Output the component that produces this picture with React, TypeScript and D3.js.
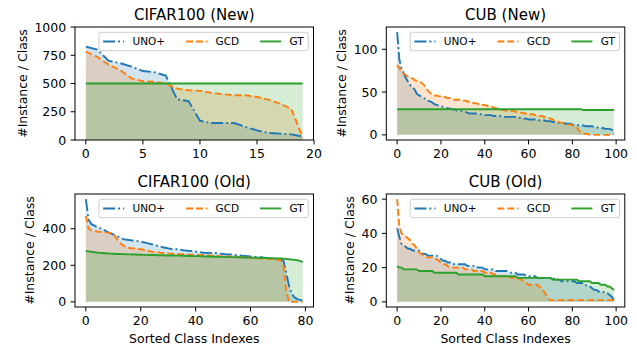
import React from 'react';
import * as d3 from 'd3';

// ---------------- data ----------------
const cifarNewUno = [827, 800, 700, 680, 650, 610, 600, 570, 360, 345, 170, 150, 150, 150, 115, 85, 62, 56, 50, 30];
const cifarNewGcd = [783, 735, 665, 620, 545, 520, 515, 500, 455, 440, 435, 417, 405, 396, 396, 381, 357, 321, 277, 24];
const cifarNewGt = [500, 500, 500, 500, 500, 500, 500, 500, 500, 500, 500, 500, 500, 500, 500, 500, 500, 500, 500, 500];

const cubNewUno = [120, 88, 78, 72, 66, 62, 58, 56, 53, 48, 46, 45, 43, 42, 40, 39, 38, 36, 35, 34,
  33, 33, 32, 31, 31, 30, 30, 29, 28, 28, 27, 27, 26, 25, 25, 25, 25, 24, 24, 24,
  23, 23, 23, 23, 22, 22, 22, 22, 21, 21, 21, 21, 21, 21, 21, 20, 20, 20, 19, 19,
  18, 18, 18, 18, 17, 17, 17, 17, 16, 16, 16, 15, 15, 14, 14, 14, 14, 13, 13, 13,
  12, 12, 12, 11, 11, 11, 10, 10, 10, 10, 9, 9, 8, 8, 8, 7, 7, 7, 6, 4];
const cubNewGcd = [82, 78, 74, 72, 70, 68, 67, 66, 64, 63, 62, 61, 59, 56, 52, 49, 47, 46, 46, 45,
  45, 45, 44, 43, 43, 42, 41, 41, 41, 41, 40, 40, 39, 39, 38, 37, 37, 36, 36, 35,
  35, 34, 33, 33, 32, 31, 31, 30, 29, 29, 28, 28, 28, 28, 27, 27, 26, 26, 25, 25,
  24, 24, 24, 23, 23, 22, 22, 21, 21, 20, 19, 18, 16, 16, 15, 14, 14, 13, 12, 12,
  11, 10, 9, 5, 3, 2, 1, 1, 0, 0, 0, 0, 0, 0, 0, 0, 0, 0, 0, 1];
const cubNewGt = [30, 30, 30, 30, 30, 30, 30, 30, 30, 30, 30, 30, 30, 30, 30, 30, 30, 30, 30, 30,
  30, 30, 30, 30, 30, 30, 30, 30, 30, 30, 30, 30, 30, 30, 30, 30, 30, 30, 30, 30,
  30, 30, 30, 30, 30, 30, 30, 30, 30, 30, 30, 30, 30, 30, 30, 30, 30, 30, 30, 30,
  30, 30, 30, 30, 30, 30, 30, 30, 30, 30, 30, 30, 30, 30, 30, 30, 30, 30, 30, 30,
  30, 30, 30, 30, 30, 29, 29, 29, 29, 29, 29, 29, 29, 29, 29, 29, 29, 29, 29, 29];

const cifarOldUno = [562, 450, 425, 418, 410, 405, 398, 390, 382, 375, 369, 362, 355, 348, 342, 340, 338, 336, 334, 332,
  329, 326, 323, 319, 315, 311, 307, 303, 299, 296, 293, 290, 289, 288, 287, 284, 282, 280, 279, 278,
  275, 273, 271, 269, 268, 268, 268, 267, 266, 264, 262, 260, 259, 259, 257, 255, 254, 252, 251, 250,
  248, 247, 246, 245, 244, 242, 240, 238, 237, 236, 236, 234, 225, 160, 90, 45, 25, 15, 11, 9];
const cifarOldGcd = [470, 400, 392, 388, 385, 383, 382, 380, 379, 377, 372, 350, 330, 315, 305, 298, 295, 293, 290, 289,
  288, 285, 281, 278, 275, 273, 271, 269, 268, 267, 265, 264, 263, 262, 261, 261, 260, 259, 258, 258,
  257, 256, 256, 255, 254, 254, 253, 252, 251, 250, 249, 248, 248, 247, 247, 246, 245, 245, 244, 243,
  242, 240, 239, 238, 237, 237, 236, 235, 234, 232, 230, 228, 200, 60, 2, 0, 0, 0, 0, 0];
const cifarOldGt = [278, 276, 274, 272, 270, 268, 267, 266, 265, 264, 263, 262, 262, 261, 261, 260, 260, 259, 259, 258,
  258, 257, 257, 256, 256, 256, 255, 255, 255, 254, 254, 254, 254, 253, 253, 252, 252, 251, 251, 250,
  250, 250, 249, 249, 248, 248, 247, 247, 247, 246, 246, 246, 245, 245, 245, 244, 244, 243, 243, 242,
  242, 241, 241, 241, 240, 240, 240, 239, 239, 238, 238, 237, 236, 235, 233, 232, 230, 228, 224, 217];

const cubOldUno = [43, 38, 34, 33, 32, 31, 31, 30, 30, 30, 30, 29, 28, 28, 27, 27, 27, 27, 27, 26,
  25, 24, 24, 23, 23, 23, 22, 22, 22, 22, 22, 22, 21, 21, 21, 21, 21, 20, 20, 20,
  19, 19, 19, 19, 19, 18, 18, 18, 18, 18, 18, 17, 17, 17, 17, 16, 16, 16, 16, 15,
  15, 15, 15, 15, 14, 14, 14, 14, 14, 14, 14, 14, 13, 13, 13, 12, 12, 12, 12, 12,
  12, 12, 11, 11, 11, 11, 10, 9, 9, 8, 7, 7, 6, 6, 6, 5, 5, 4, 3, 1];
const cubOldGcd = [60, 44, 40, 39, 38, 37, 36, 34, 33, 31, 29, 28, 27, 26, 26, 26, 26, 25, 25, 24,
  23, 22, 22, 21, 20, 20, 20, 20, 20, 20, 20, 19, 19, 19, 19, 18, 18, 18, 18, 18,
  17, 17, 17, 17, 16, 16, 16, 15, 15, 15, 15, 15, 14, 14, 14, 14, 13, 13, 12, 11,
  10, 10, 10, 10, 10, 9, 8, 6, 4, 2, 1, 1, 1, 1, 1, 1, 1, 1, 1, 1,
  1, 1, 1, 1, 1, 1, 1, 1, 1, 1, 1, 1, 1, 1, 1, 1, 1, 1, 1, 1];
const cubOldGt = [21, 20, 20, 19, 19, 19, 19, 19, 19, 19, 18, 18, 18, 18, 18, 18, 18, 17, 17, 17,
  17, 17, 17, 17, 17, 17, 17, 17, 16, 16, 16, 16, 16, 16, 16, 16, 16, 16, 16, 16,
  15, 15, 15, 15, 15, 15, 15, 15, 15, 15, 15, 15, 15, 15, 15, 14, 14, 14, 14, 14,
  14, 14, 14, 14, 14, 14, 14, 14, 14, 14, 14, 13, 13, 13, 13, 13, 13, 13, 13, 13,
  13, 13, 13, 12, 12, 12, 12, 12, 12, 11, 11, 11, 11, 10, 10, 10, 9, 9, 8, 7];

const seriesNames = ['UNO+', 'GCD', 'GT'];
const titles = ['CIFAR100 (New)', 'CUB (New)', 'CIFAR100 (Old)', 'CUB (Old)'];
const cifarNewYTicks = [0, 250, 500, 750, 1000];
const cubNewYTicks = [0, 50, 100];
const cifarOldYTicks = [0, 200, 400];
const cubOldYTicks = [0, 20, 40, 60];
const cifarNewXTicks = [0, 5, 10, 15, 20];
const cubXTicks = [0, 20, 40, 60, 80, 100];
const cifarOldXTicks = [0, 20, 40, 60, 80];

// ---------------- style ----------------
const FONT = '"DejaVu Sans", sans-serif';
const COLORS = ['#1f77b4', '#ff7f0e', '#2ca02c'];
const LW = 1.9;
const DASHES = ['12,3,1.9,3', '6.9,3', ''];
const TICK_FS = 12.5;
const TITLE_FS = 15;
const LEG_FS = 10.5;
const AX_W = 238.5;
const AX_H = 113;

// approximate DejaVu Sans advance widths (em)
const CW: Record<string, number> = {
  '0': 0.636, '1': 0.636, '2': 0.636, '3': 0.636, '4': 0.636, '5': 0.636, '6': 0.636, '7': 0.636, '8': 0.636, '9': 0.636,
  U: 0.732, N: 0.748, O: 0.787, '+': 0.838, G: 0.775, C: 0.698, D: 0.770, T: 0.611,
};
const textW = (s: string, fs: number) => s.split('').reduce((a, c) => a + (CW[c] ?? 0.6), 0) * fs;

type PanelProps = {
  left: number;
  top: number;
  title: string;
  series: number[][];
  yDomain: [number, number];
  yTicks: number[];
  xTicks: number[];
  showXLabel: boolean;
  id: string;
};

function Panel({ left, top, title, series, yDomain, yTicks, xTicks, showXLabel, id }: PanelProps) {
  const n = series[0].length;
  const pad = (n - 1) * 0.05;
  const x = d3.scaleLinear().domain([-pad, n - 1 + pad]).range([left, left + AX_W]);
  const y = d3.scaleLinear().domain(yDomain).range([top + AX_H, top]);
  const area = d3.area<number>().x((_, i) => x(i)).y0(y(0)).y1((d) => y(d));
  const line = d3.line<number>().x((_, i) => x(i)).y((d) => y(d));
  const bottom = top + AX_H;
  const right = left + AX_W;
  const maxTickW = Math.max(...yTicks.map((t) => textW(String(t), TICK_FS)));
  const ylabelX = left - 3.5 * 1.25 - 3.5 * 1.25 - maxTickW - 5 - 0.236 * TICK_FS;

  // legend layout
  const f = LEG_FS;
  const tw = seriesNames.map((s) => textW(s, f));
  const legW = 0.8 * f + 3 * (2 * f + 0.8 * f) + tw.reduce((a, b) => a + b, 0) + 2 * 2 * f;
  const legH = 0.8 * f + 0.95 * f;
  const legX = right - 0.5 * f - legW;
  const legY = top + 0.5 * f;
  const rowY = legY + legH / 2;
  let cursor = legX + 0.4 * f;
  const items = seriesNames.map((name, i) => {
    const hx = cursor;
    const tx = hx + 2 * f + 0.8 * f;
    cursor = tx + tw[i] + 2 * f;
    return { name, hx, tx, i };
  });

  return (
    <g>
      <defs>
        <clipPath id={id}>
          <rect x={left} y={top} width={AX_W} height={AX_H} />
        </clipPath>
      </defs>
      <g clipPath={`url(#${id})`}>
        {series.map((s, i) => (
          <path key={'a' + i} d={area(s) ?? ''} fill={COLORS[i]} fillOpacity={0.2} stroke="none" />
        ))}
        {series.map((s, i) => (
          <path key={'l' + i} d={line(s) ?? ''} fill="none" stroke={COLORS[i]} strokeWidth={LW}
            strokeDasharray={DASHES[i] || undefined} />
        ))}
      </g>
      <rect x={left} y={top} width={AX_W} height={AX_H} fill="none" stroke="#000" strokeWidth={1} />
      {yTicks.map((t) => (
        <g key={'y' + t}>
          <line x1={left - 4.4} x2={left} y1={y(t)} y2={y(t)} stroke="#000" strokeWidth={1} />
          <text x={left - 8.8} y={y(t)} dy="0.36em" textAnchor="end" fontSize={TICK_FS} fontFamily={FONT}>{t}</text>
        </g>
      ))}
      {xTicks.map((t) => (
        <g key={'x' + t}>
          <line x1={x(t)} x2={x(t)} y1={bottom} y2={bottom + 4.4} stroke="#000" strokeWidth={1} />
          <text x={x(t)} y={bottom + 8.8 + 0.76 * TICK_FS} textAnchor="middle" fontSize={TICK_FS} fontFamily={FONT}>{t}</text>
        </g>
      ))}
      <text x={(left + right) / 2} y={top - 7.5} textAnchor="middle" fontSize={TITLE_FS} fontFamily={FONT}>{title}</text>
      <text transform={`translate(${ylabelX},${top + AX_H / 2}) rotate(-90)`} textAnchor="middle" fontSize={TICK_FS} fontFamily={FONT}>
        #Instance / Class
      </text>
      {showXLabel && (
        <text x={(left + right) / 2} y={bottom + 35.8} textAnchor="middle" fontSize={TICK_FS} fontFamily={FONT}>
          Sorted Class Indexes
        </text>
      )}
      <rect x={legX} y={legY} width={legW} height={legH} rx={0.2 * f} fill="#fff" fillOpacity={0.8} stroke="#cccccc" strokeWidth={1} />
      {items.map((it) => (
        <g key={it.name}>
          <line x1={it.hx} x2={it.hx + 2 * f} y1={rowY} y2={rowY} stroke={COLORS[it.i]} strokeWidth={LW}
            strokeDasharray={DASHES[it.i] || undefined} />
          <text x={it.tx} y={rowY} dy="0.36em" fontSize={f} fontFamily={FONT}>{it.name}</text>
        </g>
      ))}
    </g>
  );
}

const yDom = (max: number): [number, number] => [-0.05 * max, 1.05 * max];

export default function App() {
  const L1 = 75;
  const L2 = 386.3;
  const T1 = 27;
  const T2 = 194;
  return (
    <svg width={637} height={347} style={{ position: 'absolute', left: 0, top: 0, background: '#fff' }}>
      <rect width={637} height={347} fill="#fff" />
      <Panel id="c1" left={L1} top={T1} title={titles[0]} series={[cifarNewUno, cifarNewGcd, cifarNewGt]}
        yDomain={[0, 1000]} yTicks={cifarNewYTicks} xTicks={cifarNewXTicks} showXLabel={false} />
      <Panel id="c2" left={L2} top={T1} title={titles[1]} series={[cubNewUno, cubNewGcd, cubNewGt]}
        yDomain={yDom(d3.max(cubNewUno) as number)} yTicks={cubNewYTicks} xTicks={cubXTicks} showXLabel={false} />
      <Panel id="c3" left={L1} top={T2} title={titles[2]} series={[cifarOldUno, cifarOldGcd, cifarOldGt]}
        yDomain={yDom(d3.max(cifarOldUno) as number)} yTicks={cifarOldYTicks} xTicks={cifarOldXTicks} showXLabel={true} />
      <Panel id="c4" left={L2} top={T2} title={titles[3]} series={[cubOldUno, cubOldGcd, cubOldGt]}
        yDomain={yDom(d3.max(cubOldGcd) as number)} yTicks={cubOldYTicks} xTicks={cubXTicks} showXLabel={true} />
    </svg>
  );
}
